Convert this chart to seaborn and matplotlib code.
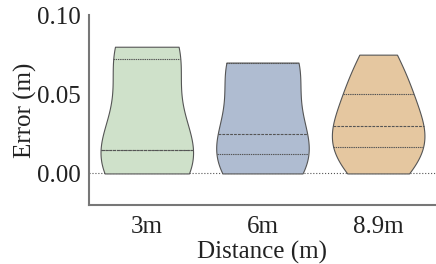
import matplotlib
matplotlib.use("Agg")
import matplotlib.pyplot as plt
import seaborn as sns
import pandas as pd

categories = ["3m", "6m", "8.9m"]
err_3m = [0.0, 0.015, 0.015, 0.072, 0.080]
err_6m = [0.0, 0.012, 0.025, 0.070, 0.070]
err_89m = [0.0, 0.005, 0.0165, 0.022, 0.030, 0.036, 0.050, 0.058, 0.075]
colors = ["#cde5c6", "#aabbd6", "#f0c995"]

df = pd.DataFrame({
    "Distance": [categories[0]] * len(err_3m) + [categories[1]] * len(err_6m) + [categories[2]] * len(err_89m),
    "Error": err_3m + err_6m + err_89m,
})

sns.set_style("white")
plt.rcParams["font.family"] = ["Liberation Serif", "DejaVu Serif"]

fig = plt.figure(figsize=(4.36, 2.64), dpi=100)
ax = fig.add_axes([0.204, 0.223, 0.796, 0.72])

sns.violinplot(data=df, x="Distance", y="Error", hue="Distance", order=categories,
               palette=colors, cut=0, inner="quart", density_norm="width",
               linewidth=0.8, linecolor="#555555", legend=False, ax=ax)

ax.axhline(0, color="#555555", ls=":", lw=0.8, zorder=0)
ax.set_ylim(-0.02, 0.10)
ax.set_xlim(-0.5, 2.5)
ax.set_yticks([0.0, 0.05, 0.10])
ax.set_yticklabels(["0.00", "0.05", "0.10"])
ax.tick_params(axis="both", length=0, labelsize=18, colors="#222222")
ax.tick_params(axis="y", pad=6)
ax.tick_params(axis="x", pad=8)
ax.set_xlabel("Distance (m)", fontsize=18, color="#222222", labelpad=2)
ax.set_ylabel("Error (m)", fontsize=18, color="#222222", labelpad=0)
for s in ["top", "right"]:
    ax.spines[s].set_visible(False)
for s in ["left", "bottom"]:
    ax.spines[s].set_color("#777777")
    ax.spines[s].set_linewidth(1.5)

fig.savefig("out.png", dpi=100)
